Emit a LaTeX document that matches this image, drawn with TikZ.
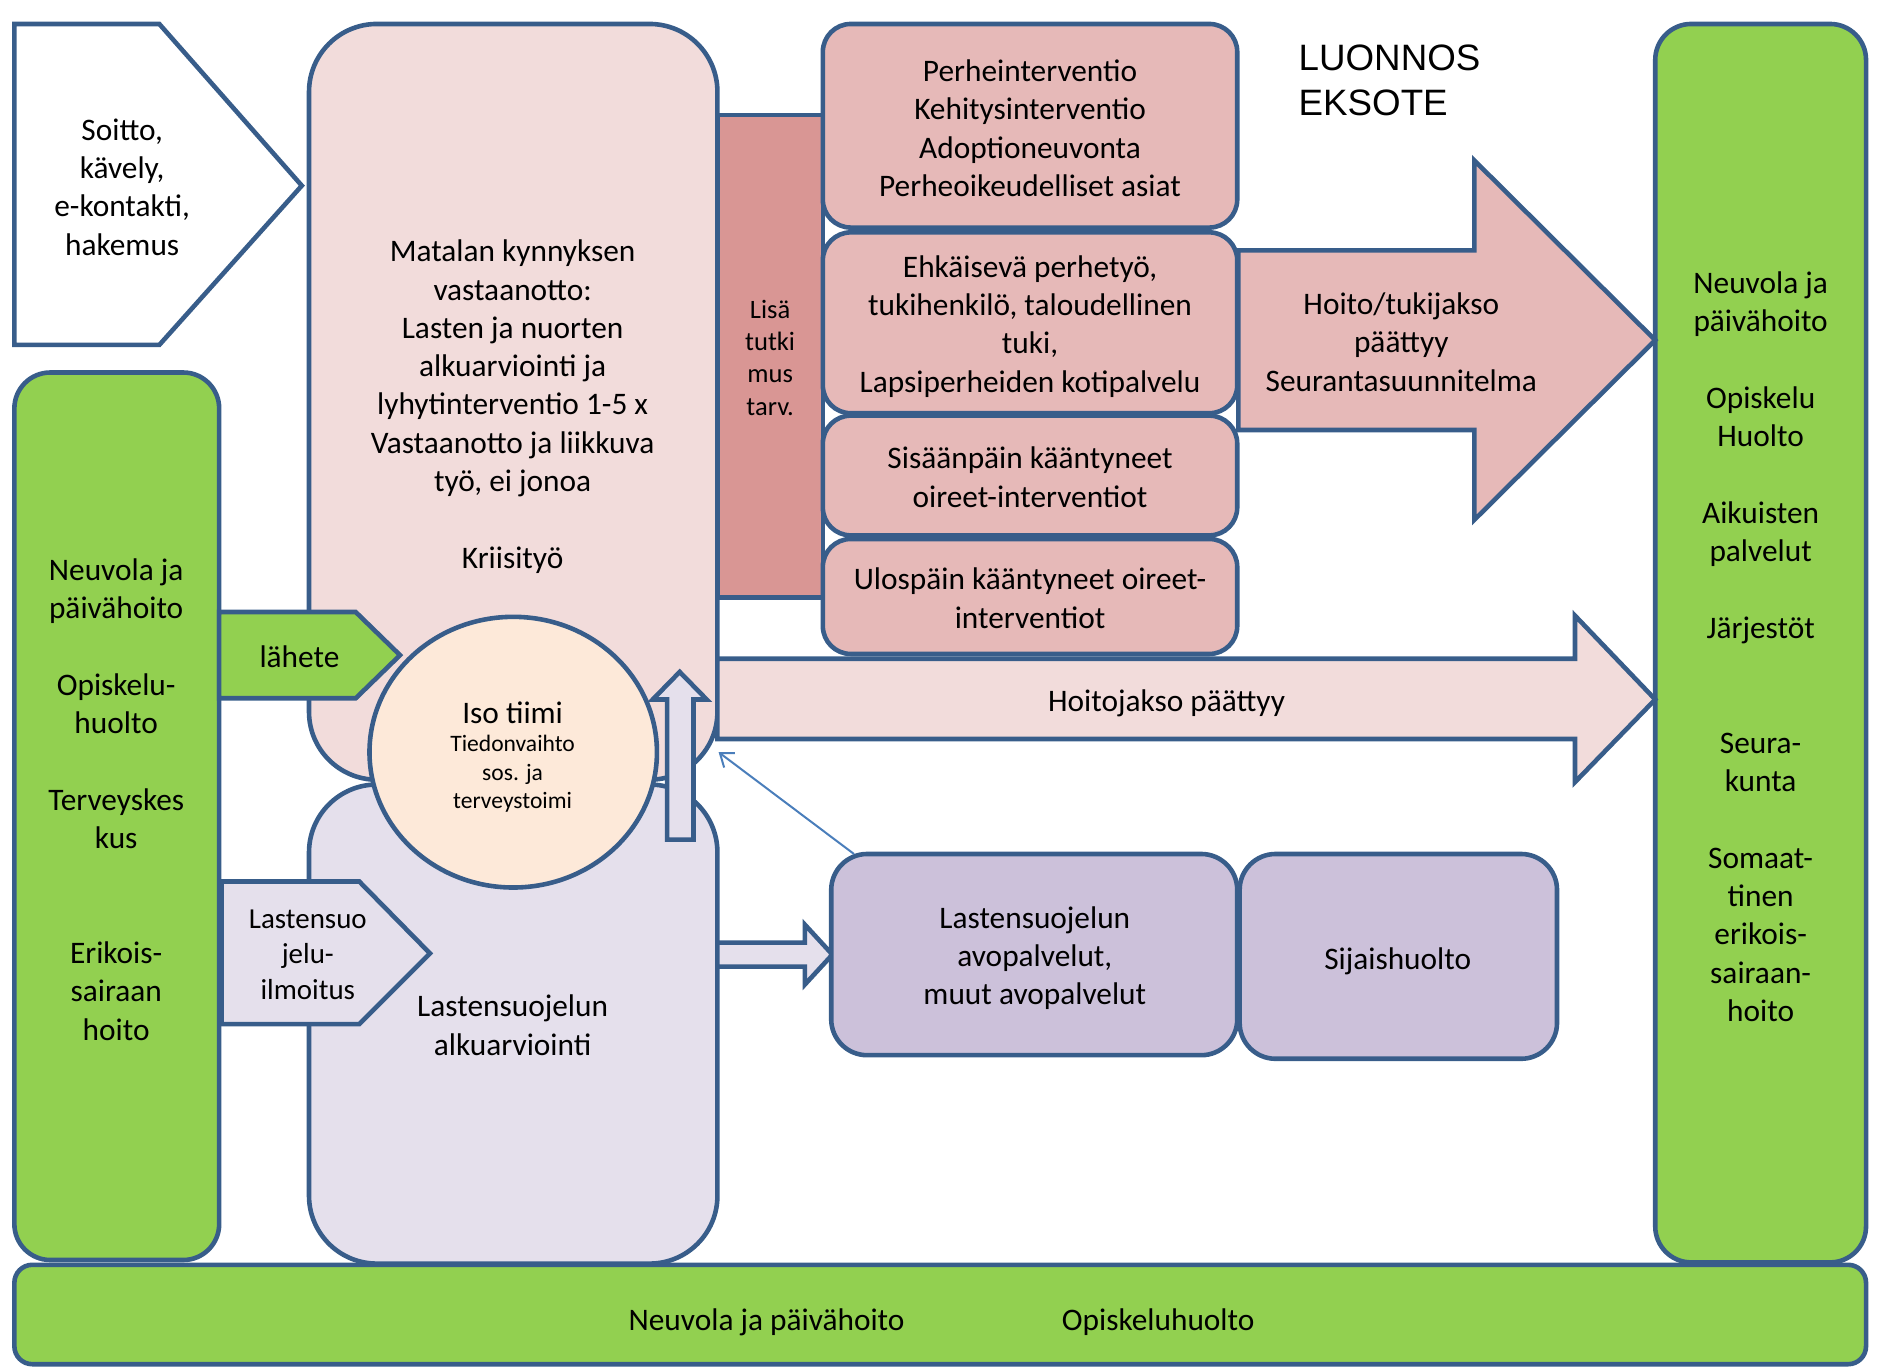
\documentclass[tikz,border=0pt]{standalone}
\usepackage{fontspec}
\setmainfont{Carlito}
\newfontfamily\arialfont{Liberation Sans}
\usepackage{tikz}
\usetikzlibrary{arrows.meta}
\definecolor{outline}{HTML}{385D8A}
\definecolor{grn}{HTML}{92D050}
\definecolor{pinklight}{HTML}{F2DCDB}
\definecolor{pinkbox}{HTML}{E6B9B8}
\definecolor{pinkdark}{HTML}{D99694}
\definecolor{lavender}{HTML}{E5E0EC}
\definecolor{purplebox}{HTML}{CCC1DA}
\definecolor{peach}{HTML}{FDE9D9}
\definecolor{thinblue}{HTML}{4A7EBB}

\begin{document}
\begin{tikzpicture}[x=0.6pt,y=0.6pt,yscale=-1,xscale=1,
    blk/.style={draw=outline,line width=2.3pt},
    txt/.style={inner sep=0.75pt,align=center,font=\fontsize{15.7}{19.2}\selectfont},
    smalltxt/.style={inner sep=0.75pt,align=center,font=\fontsize{11.8}{14.4}\selectfont}]
    \useasboundingbox (0,0) rectangle (1568,1142);

    %Rounded Rect [bottom bar]
    \draw [blk,fill=grn,rounded corners=9pt] (12,1056) rectangle (1558,1139) ;
    %Rounded Rect [left green]
    \draw [blk,fill=grn,rounded corners=18pt] (12,311) rectangle (183,1052) ;
    %Rounded Rect [right green]
    \draw [blk,fill=grn,rounded corners=18pt] (1382,20) rectangle (1558,1054) ;
    %Rounded Rect [alkuarviointi]
    \draw [blk,fill=lavender,rounded corners=34pt] (258,655) rectangle (599,1055) ;
    %Rounded Rect [matala]
    \draw [blk,fill=pinklight,rounded corners=34pt] (258,20) rectangle (599,651) ;
    %Shape: Rectangle [lisatutkimus]
    \draw [blk,fill=pinkdark] (599,96) rectangle (687,499) ;
    %Rounded Rect [perhe]
    \draw [blk,fill=pinkbox,rounded corners=14pt] (687,20) rectangle (1033,190) ;
    %Rounded Rect [ehkaiseva]
    \draw [blk,fill=pinkbox,rounded corners=14pt] (687,194) rectangle (1033,345) ;
    %Rounded Rect [sisaan]
    \draw [blk,fill=pinkbox,rounded corners=14pt] (687,347) rectangle (1033,447) ;
    %Rounded Rect [ulos]
    \draw [blk,fill=pinkbox,rounded corners=14pt] (687,450) rectangle (1033,546) ;
    %Shape: Right Arrow [hoito/tukijakso]
    \draw [blk,fill=pinkbox] (1034,209) -- (1231,209) -- (1231,134) -- (1382,284) -- (1231,434) -- (1231,359) -- (1034,359) -- cycle ;
    %Shape: Right Arrow [hoitojakso]
    \draw [blk,fill=pinklight] (599,550) -- (1315,550) -- (1315,514) -- (1382,584) -- (1315,653) -- (1315,617) -- (599,617) -- cycle ;
    %Shape: Pentagon [soitto]
    \draw [blk,fill=white] (12,20) -- (133,20) -- (252,155) -- (133,288) -- (12,288) -- cycle ;
    %Shape: Pentagon [lahete]
    \draw [blk,fill=grn] (183,511) -- (297,511) -- (334,547) -- (297,583) -- (183,583) -- cycle ;
    %Shape: Pentagon [ilmoitus]
    \draw [blk,fill=lavender] (185,736) -- (300,736) -- (359,796) -- (300,855) -- (185,855) -- cycle ;
    %Shape: Ellipse [iso tiimi]
    \draw [blk,fill=peach] (428.5,628) ellipse [x radius=120, y radius=113] ;
    %Shape: Up Arrow
    \draw [blk,fill=lavender] (557,701) -- (557,584) -- (545,584) -- (567.5,561) -- (590,584) -- (579,584) -- (579,701) -- cycle ;
    %Shape: Right Arrow [small]
    \draw [blk,fill=lavender] (599,787) -- (672,787) -- (672,772) -- (695,797) -- (672,822) -- (672,807) -- (599,807) -- cycle ;
    %Rounded Rect [avopalvelut]
    \draw [blk,fill=purplebox,rounded corners=18pt] (694,713) rectangle (1033,881) ;
    %Rounded Rect [sijaishuolto]
    \draw [blk,fill=purplebox,rounded corners=18pt] (1035,713) rectangle (1300,884) ;

    %Straight Lines [thin connector]
    \coordinate (avotop) at (713,713) ;
    \coordinate (matalacorner) at (600,628) ;
    \draw [thinblue,line width=1pt,-{Straight Barb[length=6pt,width=9pt]}] (avotop) -- (matalacorner) ;

    % Text Node
    \draw (102,156) node [txt] (soitto) {Soitto,\\kävely,\\e-kontakti,\\hakemus};
    % Text Node
    \draw (97,667.5) node [txt] (vasen) {Neuvola ja\\päivähoito\\[19.2pt]Opiskelu-\\huolto\\[19.2pt]Terveyskes\\kus\\[38.4pt]Erikois-\\sairaan\\hoito};
    % Text Node
    \draw (428,339.5) node [txt] (matala) {Matalan kynnyksen\\vastaanotto:\\Lasten ja nuorten\\alkuarviointi ja\\lyhytinterventio 1-5 x\\Vastaanotto ja liikkuva\\työ, ei jonoa\\[19.2pt]Kriisityö};
    % Text Node
    \draw (643,298.5) node [inner sep=0.75pt,align=center,font=\fontsize{13.3}{16.2}\selectfont] (lisa) {Lisä\\tutki\\mus\\tarv.};
    % Text Node
    \draw (860,107) node [txt] (perhe) {Perheinterventio\\Kehitysinterventio\\Adoptioneuvonta\\Perheoikeudelliset asiat};
    % Text Node
    \draw (860,272.5) node [txt] (ehk) {Ehkäisevä perhetyö,\\tukihenkilö, taloudellinen\\tuki,\\Lapsiperheiden kotipalvelu};
    % Text Node
    \draw (860,398.5) node [txt] (sisaan) {Sisäänpäin kääntyneet\\oireet-interventiot};
    % Text Node
    \draw (860,499.5) node [txt] (ulos) {Ulospäin kääntyneet oireet-\\interventiot};
    % Text Node
    \draw (1170,285.5) node [txt] (tukijakso) {Hoito/tukijakso\\päättyy\\Seurantasuunnitelma};
    % Text Node
    \draw (1084,67) node [anchor=west,inner sep=0pt,align=left,font=\arialfont\fontsize{18.4}{22.8}\selectfont] (luonnos) {LUONNOS\\EKSOTE};
    % Text Node
    \draw (1470,540) node [txt] (oikea) {Neuvola ja\\päivähoito\\[19.2pt]Opiskelu\\Huolto\\[19.2pt]Aikuisten\\palvelut\\[19.2pt]Järjestöt\\[38.4pt]Seura-\\kunta\\[19.2pt]Somaat-\\tinen\\erikois-\\sairaan-\\hoito};
    % Text Node
    \draw (250,548) node [txt] (lahete) {lähete};
    % Text Node
    \draw (974,587) node [txt] (hoitojakso) {Hoitojakso päättyy};
    % Text Node
    \draw (428,595) node [txt] (isotiimi) {Iso tiimi};
    % Text Node
    \draw (428,646) node [smalltxt] (tiedon) {Tiedonvaihto\\sos. ja\\terveystoimi};
    % Text Node
    \draw (257,797) node [inner sep=0.75pt,align=center,font=\fontsize{14.5}{17.7}\selectfont] (ilmoitus) {Lastensuo\\jelu-\\ilmoitus};
    % Text Node
    \draw (428,856) node [txt] (alku) {Lastensuojelun\\alkuarviointi};
    % Text Node
    \draw (864,800) node [txt] (avo) {Lastensuojelun\\avopalvelut,\\muut avopalvelut};
    % Text Node
    \draw (1167,803) node [txt] (sijais) {Sijaishuolto};
    % Text Node
    \draw (640,1104) node [txt] (neuvola) {Neuvola ja päivähoito};
    % Text Node
    \draw (967,1104) node [txt] (opiskelu) {Opiskeluhuolto};
\end{tikzpicture}
\end{document}
